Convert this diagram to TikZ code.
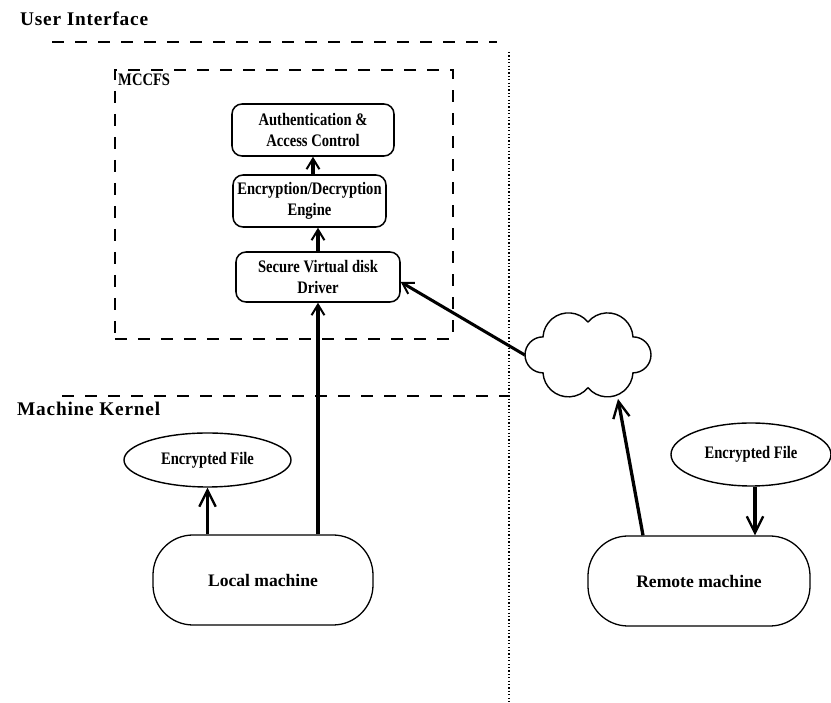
\documentclass[tikz,border=0pt]{standalone}
\usepackage{fontspec}
\setmainfont{Liberation Serif}
\newfontfamily\cond{Liberation Serif}[FakeStretch=0.83]
\newfontfamily\headfont{Liberation Serif}[LetterSpace=4]
\usetikzlibrary{arrows.meta,shapes.geometric}

\tikzset{
  boxtext/.style={font=\cond\bfseries\fontsize{15}{18.5}\selectfont, align=center},
  procbox/.style={draw, line width=1.3pt, rounded corners=0.3cm, inner sep=0pt, boxtext},
  machine/.style={draw, line width=1.1pt, rounded corners=1.2cm, inner sep=0pt,
    minimum height=2.7cm, font=\bfseries\fontsize{15}{18}\selectfont},
  filenode/.style={draw, ellipse, line width=1.2pt, inner sep=0pt, boxtext},
  heading/.style={font=\headfont\bfseries\fontsize{16.5}{19}\selectfont, anchor=west, inner sep=0pt},
  layerline/.style={line width=1.5pt, dash pattern=on 0.36cm off 0.33cm},
  splitline/.style={line width=1pt, dash pattern=on 1.1pt off 1.8pt},
  cloudline/.style={line width=1.2pt},
  flow/.style={line width=2.6pt, -{Straight Barb[length=9pt,width=11pt,line width=1.7pt]}},
  bigflow/.style={line width=2.8pt, -{Straight Barb[length=14pt,width=14pt,line width=2pt]}},
}

\begin{document}
\begin{tikzpicture}[x=0.03cm, y=0.03cm]
  \useasboundingbox (0,0) rectangle (831,703);

  % layer headings and separators
  \node[heading] (ui) at (20,684) {User Interface};
  \node[heading] (mk) at (17,294) {Machine Kernel};
  \coordinate (uiL) at (52,661);
  \coordinate (uiR) at (497,661);
  \coordinate (mkL) at (62,307);
  \coordinate (mkR) at (510,307);
  \coordinate (spT) at (509,651);
  \coordinate (spB) at (509,0);
  \draw[layerline] (uiL) -- (uiR);
  \draw[layerline] (mkL) -- (mkR);
  \draw[splitline] (spT) -- (spB);

  % MCCFS container
  \node[draw, layerline, minimum width=10.14cm, minimum height=8.07cm, inner sep=0pt]
    (mccfs) at (284,498.5) {};
  \node[boxtext, anchor=west, inner sep=0pt] (mccfslbl) at (118,623) {MCCFS};

  % MCCFS components
  \node[procbox, minimum width=4.86cm, minimum height=1.56cm] (auth) at (313,573)
    {Authentication \&\\Access Control};
  \node[procbox, minimum width=4.59cm, minimum height=1.56cm] (enc) at (309.5,502)
    {Encryption/Decryption\\Engine};
  \node[procbox, minimum width=4.92cm, minimum height=1.5cm] (svd) at (318,426)
    {Secure Virtual disk\\Driver};

  % network cloud: six circular puffs around the frame node
  \node[minimum width=3.78cm, minimum height=2.52cm, inner sep=0pt] (net) at (588,348) {};
  \draw[cloudline, shift={(net.center)}]
    (0,33)
    arc[start angle=40, end angle=176.6, radius=0.765cm]
    arc[start angle=90, end angle=270, radius=0.54cm]
    arc[start angle=183.4, end angle=320, radius=0.765cm]
    arc[start angle=220, end angle=356.6, radius=0.765cm]
    arc[start angle=-90, end angle=90, radius=0.54cm]
    arc[start angle=3.4, end angle=140, radius=0.765cm]
    -- cycle;

  % machines and their files
  \node[machine, minimum width=6.6cm] (local) at (263,123) {Local machine};
  \node[machine, minimum width=6.66cm] (remote) at (699,122) {Remote machine};
  \node[filenode, minimum width=5.01cm, minimum height=1.62cm] (lfile) at (207.5,243)
    {Encrypted File};
  \node[filenode, minimum width=4.8cm, minimum height=1.89cm] (rfile) at (751,248.5)
    {Encrypted File};

  % data flow
  \draw[flow] (auth.south |- enc.north) -- (auth.south);
  \draw[flow] (svd.north) -- (svd.north |- enc.south);
  \draw[flow] (svd.south |- local.north) -- (svd.south);
  \draw[bigflow] (lfile.south |- local.north) -- (lfile.south);
  \draw[flow] (net.west) -- ([yshift=-0.15cm]svd.east);
  \draw[bigflow] ([xshift=-1.68cm]remote.north) -- ([xshift=0.9cm,yshift=-0.05cm]net.south);
  \draw[bigflow] ([xshift=0.12cm]rfile.south) -- ([xshift=0.12cm]rfile.south |- remote.north);
\end{tikzpicture}
\end{document}
